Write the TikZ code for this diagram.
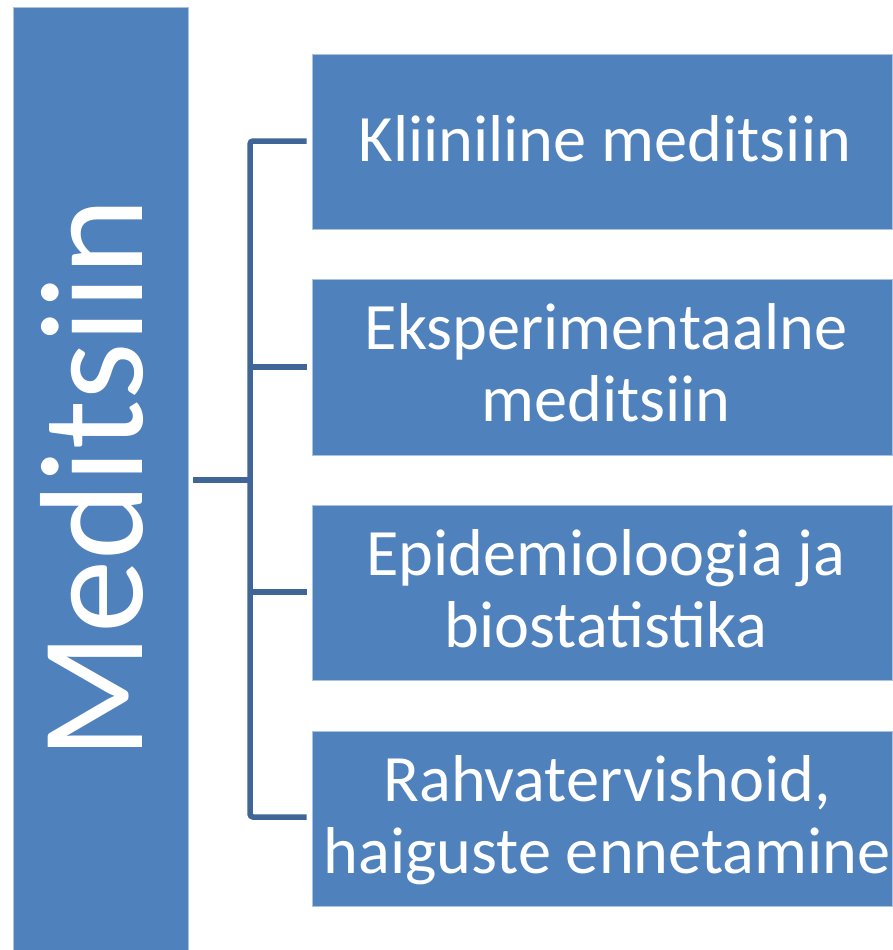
\documentclass[tikz,border=0pt]{standalone}
\usepackage{fontspec}
\setmainfont{Carlito}
\usetikzlibrary{calc}
\definecolor{boxfill}{RGB}{79,129,189}
\definecolor{boxedge}{RGB}{170,195,226}
\definecolor{linkcol}{RGB}{64,102,151}
\tikzset{
  catbox/.style={rectangle, fill=boxfill, draw=boxedge, line width=0.8pt, inner sep=0pt},
  lbl/.style={text=white, font=\fontsize{66.3}{72}\selectfont, align=center, inner sep=0pt},
  link/.style={draw=linkcol, line width=5.5pt, rounded corners=3pt}
}
\begin{document}
\begin{tikzpicture}[x=1pt,y=-1pt]
\useasboundingbox (0,0) rectangle (892,950);
\fill[white] (0,0) rectangle (892,950);
% main box
\node[catbox, minimum width=175pt, minimum height=943pt] (main) at (100.5,478.5) {};
\node[text=white, font=\fontsize{147}{160}\selectfont, rotate=90, anchor=base, inner sep=0pt] (mainlbl) at (142,479) {Meditsiin};
% category boxes
\node[catbox, minimum width=580pt, minimum height=175pt] (b1) at (602,141.5) {};
\node[catbox, minimum width=580pt, minimum height=176pt] (b2) at (602,367) {};
\node[catbox, minimum width=580pt, minimum height=175pt] (b3) at (602,592.5) {};
\node[catbox, minimum width=580pt, minimum height=175pt] (b4) at (602,818.5) {};
\node[lbl, anchor=base] (t1) at ($(b1.north)+(3,108)$) {Kliiniline meditsiin};
\node[lbl, anchor=base] (t2) at ($(b2.north)+(4,143)$) {Eksperimentaalne\\meditsiin};
\node[lbl, anchor=base] (t3) at ($(b3.north)+(4,143)$) {Epidemioloogia ja\\biostatistika};
\node[lbl, anchor=base] (t4) at ($(b4.north)+(5,143)$) {Rahvatervishoid,\\haiguste ennetamine};
% connectors
\coordinate (hub) at (250,480);
\coordinate (top) at (250,141);
\coordinate (bot) at (250,817);
\draw[link] ($(main.east)+(5,1.5)$) -- (hub);
\draw[link] ($(b1.west)+(-5,-0.5)$) -- (top) -- (bot) -- ($(b4.west)+(-5,-1.5)$);
\draw[link] ($(b2.west)+(-5,0)$) -- (250,367);
\draw[link] ($(b3.west)+(-5,-0.5)$) -- (250,592);
\end{tikzpicture}
\end{document}
